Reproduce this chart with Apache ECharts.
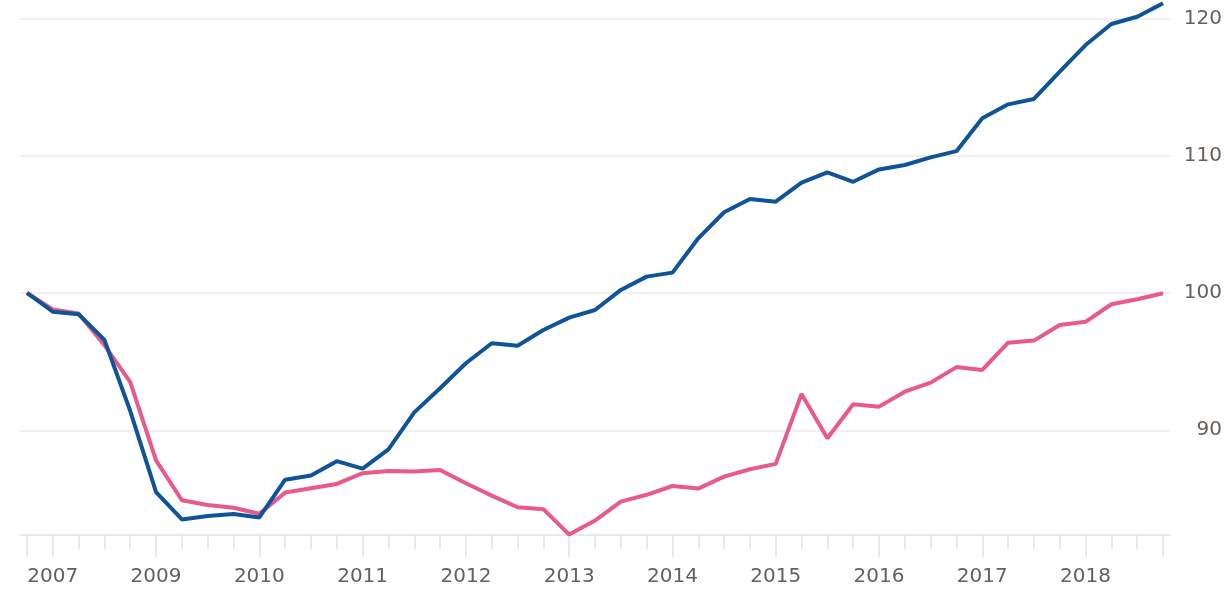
<!DOCTYPE html>
<html>
<head>
<meta charset="utf-8">
<script src="https://cdn.jsdelivr.net/npm/echarts@6/dist/echarts.min.js"></script>
<style>
  html, body { margin: 0; padding: 0; background: #fff; }
  #chart { width: 1230px; height: 593px; }
</style>
</head>
<body>
<div id="chart"></div>
<script>
// quarterly index values, first quarter = 100
const blueValues = [100.0, 98.64, 98.45, 96.58, 91.4, 85.5, 83.5, 83.75, 83.9, 83.65,
  86.4, 86.7, 87.75, 87.2, 88.6, 91.3, 93.06, 94.88, 96.34, 96.16,
  97.3, 98.2, 98.76, 100.22, 101.19, 101.48, 103.98, 105.88, 106.85, 106.65,
  108.03, 108.79, 108.1, 109.0, 109.32, 109.88, 110.33, 112.72, 113.74, 114.13,
  116.12, 118.06, 119.59, 120.12, 121.1]
const pinkValues = [100.0, 98.8, 98.5, 96.2, 93.5, 87.8, 84.9, 84.56, 84.36, 83.92,
  85.46, 85.78, 86.09, 86.87, 87.04, 86.99, 87.11, 86.14, 85.24, 84.39,
  84.25, 82.4, 83.42, 84.8, 85.3, 85.94, 85.75, 86.62, 87.16, 87.55,
  92.64, 89.42, 91.89, 91.72, 92.81, 93.47, 94.6, 94.39, 96.38, 96.53,
  97.67, 97.9, 99.18, 99.54, 99.98]

// year labels sit on these quarter positions (as printed in the original)
const yearTickIdx = [1, 5, 9, 13, 17, 21, 25, 29, 33, 37, 41]
const yearLabels = ['2007', '2009', '2010', '2011', '2012', '2013', '2014', '2015', '2016', '2017', '2018']
const yTicks = [90, 100, 110, 120]

const quarterIdx = blueValues.map((v, i) => i)
const longTicks = [0].concat(yearTickIdx, [quarterIdx.length - 1])

const gridBox = { left: 20, right: 60, top: 0, bottom: 58 }
const xMin = -0.27
const xMax = quarterIdx.length - 1 + 0.27
const yMin = 82.37
const yMax = 121.34

const tickColor = '#e6e1dc'
const labelStyle = { color: '#66605c', fontSize: 20, fontFamily: 'DejaVu Sans' }

const chart = echarts.init(document.getElementById('chart'))
chart.setOption({
  animation: false,
  grid: [
    Object.assign({}, gridBox),
    Object.assign({}, gridBox)
  ],
  xAxis: [
    {
      type: 'value',
      gridIndex: 0,
      min: xMin,
      max: xMax,
      position: 'bottom',
      axisLine: { show: true, lineStyle: { color: tickColor, width: 1.5 } },
      axisTick: { show: true, length: 22, customValues: longTicks, lineStyle: { color: tickColor, width: 1.5 } },
      axisLabel: Object.assign({
        customValues: yearTickIdx,
        margin: 32,
        formatter: v => yearLabels[yearTickIdx.indexOf(Math.round(v))] || ''
      }, labelStyle),
      splitLine: { show: false }
    },
    {
      type: 'value',
      gridIndex: 1,
      min: xMin,
      max: xMax,
      position: 'bottom',
      axisLine: { show: false },
      axisTick: { show: true, length: 14, customValues: quarterIdx, lineStyle: { color: tickColor, width: 1.5 } },
      axisLabel: { show: false },
      splitLine: { show: false }
    }
  ],
  yAxis: [
    {
      type: 'value',
      gridIndex: 0,
      position: 'right',
      min: yMin,
      max: yMax,
      axisLine: { show: false },
      axisTick: { show: false, customValues: yTicks },
      axisLabel: Object.assign({ customValues: yTicks, align: 'right', margin: 52 }, labelStyle),
      splitLine: { show: true, lineStyle: { color: '#ece8e4', width: 1.5 } }
    },
    {
      type: 'value',
      gridIndex: 1,
      min: yMin,
      max: yMax,
      show: false
    }
  ],
  series: [
    {
      type: 'line',
      xAxisIndex: 0,
      yAxisIndex: 0,
      data: pinkValues.map((v, i) => [quarterIdx[i], v]),
      showSymbol: false,
      clip: false,
      lineStyle: { color: '#e95a8b', width: 4 }
    },
    {
      type: 'line',
      xAxisIndex: 0,
      yAxisIndex: 0,
      data: blueValues.map((v, i) => [quarterIdx[i], v]),
      showSymbol: false,
      clip: false,
      lineStyle: { color: '#0f5499', width: 4 }
    }
  ]
})
</script>
</body>
</html>
